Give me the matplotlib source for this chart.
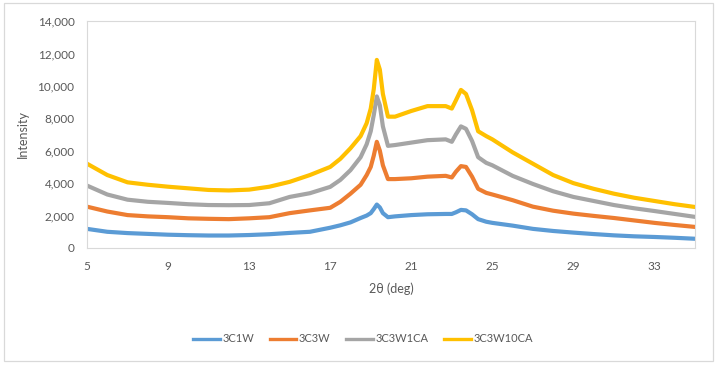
import matplotlib
matplotlib.use("Agg")
import matplotlib.pyplot as plt
from matplotlib.patches import Rectangle
from matplotlib.ticker import FuncFormatter

two_theta = [5, 6, 7, 8, 9, 10, 11, 12, 13, 14, 15, 16, 17, 17.5, 18, 18.5, 18.8,
             19.0, 19.15, 19.3, 19.45, 19.6, 19.85, 20.2, 21, 21.8, 22.7, 23.0, 23.2,
             23.45, 23.7, 24.0, 24.3, 24.7, 25, 26, 27, 28, 29, 30, 31, 32, 33, 34, 35]

i_3C1W = [1180, 1000, 920, 870, 820, 790, 770, 770, 800, 850, 930, 1000, 1250, 1400,
          1580, 1850, 2000, 2150, 2400, 2680, 2500, 2150, 1900, 1950, 2030, 2080, 2100,
          2100, 2200, 2350, 2320, 2080, 1780, 1620, 1550, 1380, 1180, 1050, 950, 860,
          780, 720, 680, 630, 570]

i_3C3W = [2550, 2250, 2030, 1950, 1900, 1830, 1800, 1780, 1830, 1900, 2150, 2320, 2480,
          2850, 3350, 3900, 4500, 5000, 5700, 6550, 6000, 5100, 4250, 4250, 4300, 4400,
          4450, 4350, 4700, 5050, 5000, 4400, 3650, 3400, 3300, 2950, 2550, 2300, 2120,
          1980, 1850, 1700, 1550, 1420, 1300]

i_3C3W1CA = [3850, 3300, 2980, 2850, 2780, 2700, 2650, 2640, 2650, 2760, 3150, 3380,
             3770, 4200, 4800, 5600, 6400, 7200, 8200, 9350, 8800, 7500, 6300, 6350,
             6500, 6650, 6700, 6550, 7000, 7500, 7350, 6600, 5600, 5250, 5100, 4450,
             3950, 3500, 3150, 2900, 2650, 2450, 2280, 2100, 1920]

i_3C3W10CA = [5200, 4500, 4050, 3900, 3780, 3680, 3580, 3550, 3600, 3780, 4080, 4500,
              5000, 5500, 6150, 6900, 7700, 8600, 9800, 11600, 11000, 9500, 8100, 8100,
              8450, 8750, 8750, 8600, 9100, 9750, 9500, 8500, 7200, 6900, 6700, 5900,
              5200, 4500, 4000, 3650, 3350, 3100, 2900, 2700, 2530]

series_names = ["3C1W", "3C3W", "3C3W1CA", "3C3W10CA"]
series_values = [i_3C1W, i_3C3W, i_3C3W1CA, i_3C3W10CA]
colors = ["#5B9BD5", "#ED7D31", "#A5A5A5", "#FFC000"]

x_ticks = [5, 9, 13, 17, 21, 25, 29, 33]
y_ticks = [0, 2000, 4000, 6000, 8000, 10000, 12000, 14000]

plt.rcParams['font.family'] = ['Lato', 'DejaVu Sans']
text_color = "#595959"

fig = plt.figure(figsize=(7.22, 3.66), dpi=100)
ax = fig.add_axes([87 / 722, 118 / 366, 608 / 722, 227 / 366])

for name, vals, c in zip(series_names, series_values, colors):
    ax.plot(two_theta, vals, color=c, lw=3.0, label=name, solid_joinstyle="round")

ax.set_xlim(5, 35)
ax.set_ylim(0, 14000)
ax.set_xticks(x_ticks)
ax.set_yticks(y_ticks)
ax.yaxis.set_major_formatter(FuncFormatter(lambda v, p: "{:,.0f}".format(v)))
ax.tick_params(length=0, labelsize=8.5, labelcolor=text_color, pad=9)
for s in ax.spines.values():
    s.set_color("#D9D9D9")
    s.set_linewidth(0.8)

ax.set_xlabel("2\u03b8 (deg)", fontsize=9, color=text_color, labelpad=8)
ax.set_ylabel("Intensity", fontsize=9, color=text_color, labelpad=6)

handles, labels = ax.get_legend_handles_labels()
leg = fig.legend(handles, labels, loc="center", bbox_to_anchor=(363 / 722, 1 - 339 / 366),
                 ncol=4, frameon=False, fontsize=8, handlelength=2.4, handletextpad=0.25,
                 columnspacing=1.4)
for t in leg.get_texts():
    t.set_color(text_color)
for h in leg.get_lines():
    h.set_linewidth(2.4)

# outer chart border like the spreadsheet chart frame
fig.patches.append(Rectangle((4 / 722, 5 / 366), 709 / 722, 358 / 366, transform=fig.transFigure,
                             fill=False, edgecolor="#D9D9D9", lw=0.9))

fig.savefig("out.png", dpi=100, facecolor="white")
